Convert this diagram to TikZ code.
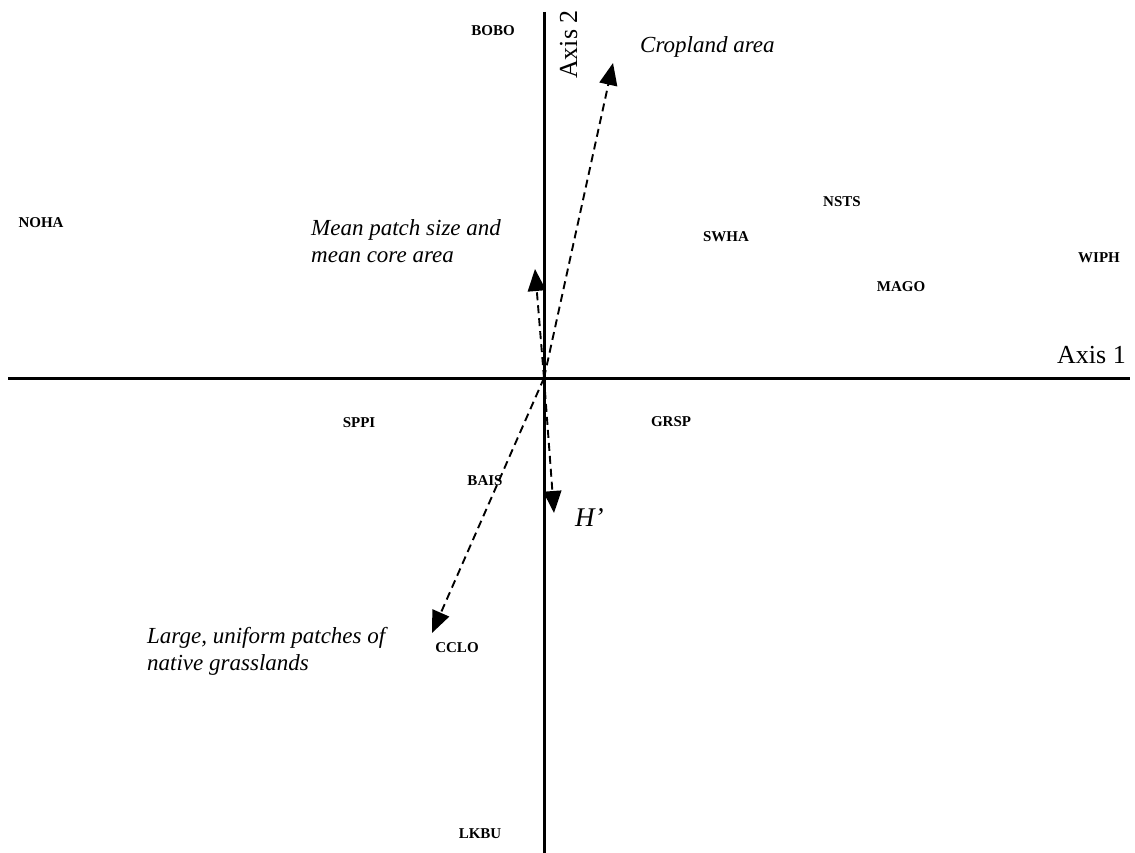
\documentclass[tikz,border=0pt]{standalone}
\usepackage{fontspec}
\setmainfont{Liberation Serif}
\usetikzlibrary{arrows.meta}
\begin{document}
\begin{tikzpicture}[x=1pt,y=-1pt,
 axis/.style={line width=3pt},
 vec/.style={line width=1.9pt, dash pattern=on 8pt off 5pt, -{Triangle[length=22pt,width=18pt]}},
 sp/.style={font=\fontsize{15}{18}\selectfont\bfseries, inner sep=0pt},
 lab/.style={font=\fontsize{23}{27}\selectfont\itshape, inner sep=0pt, align=left},
 axlab/.style={font=\fontsize{26}{30}\selectfont, inner sep=0pt}]
\useasboundingbox (0,0) rectangle (1135,853);
\coordinate (xl) at (8,378); \coordinate (xr) at (1130,378);
\coordinate (yt) at (544,12); \coordinate (yb) at (544,853);
\coordinate (O) at (544,378);
\draw[axis] (xl) -- (xr);
\draw[axis] (yt) -- (yb);
\node[axlab, anchor=base east] (ax1) at (1126,363) {Axis 1};
\node[axlab, rotate=90, anchor=base west] (ax2) at (577,79) {Axis 2};
% vectors
\coordinate (crop) at (613,63);
\coordinate (mean) at (535,269);
\coordinate (hp) at (554,513);
\coordinate (large) at (432,633);
\draw[vec] (O) -- (crop);
\draw[vec] (O) -- (mean);
\draw[vec] (O) -- (hp);
\draw[vec] (O) -- (large);
% vector labels
\node[lab, anchor=base west] (lcrop) at (640,53) {Cropland area};
\node[lab, anchor=north west] (lmean) at (311,219) {Mean patch size and\\mean core area};
\node[lab, anchor=north west] (llarge) at (147,627) {Large, uniform patches of\\native grasslands};
\node[font=\fontsize{27}{30}\selectfont\itshape, inner sep=0pt, anchor=base west] (lhp) at (575,526) {H’};
% species
\node[sp] (BOBO) at (493,31) {BOBO};
\node[sp] (NOHA) at (41,223) {NOHA};
\node[sp] (NSTS) at (842,202) {NSTS};
\node[sp] (SWHA) at (726,237) {SWHA};
\node[sp] (WIPH) at (1099,258) {WIPH};
\node[sp] (MAGO) at (901,287) {MAGO};
\node[sp] (SPPI) at (359,423) {SPPI};
\node[sp] (GRSP) at (671,422) {GRSP};
\node[sp] (BAIS) at (485,481) {BAIS};
\node[sp] (CCLO) at (457,648) {CCLO};
\node[sp] (LKBU) at (480,834) {LKBU};
\end{tikzpicture}
\end{document}
